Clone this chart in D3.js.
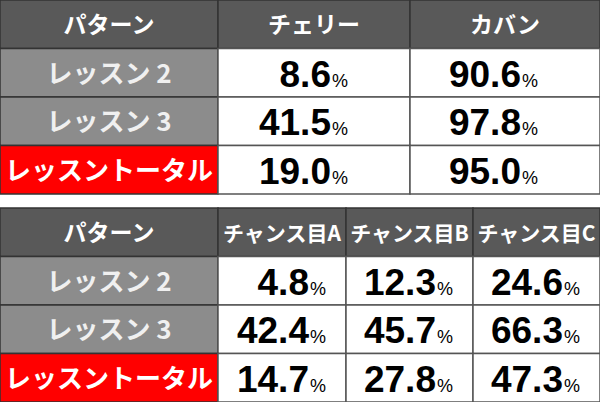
<!DOCTYPE html>
<html><head><meta charset="utf-8">
<script src="https://cdn.jsdelivr.net/npm/d3@7"></script>
<style>body{margin:0;background:#fff}</style>
</head><body>
<svg width="600" height="402"></svg>
<script>
var rowLabels = ["レッスン 2", "レッスン 3", "レッスントータル"];
var head1 = ["パターン", "チェリー", "カバン"];
var vals1 = [[8.6, 90.6], [41.5, 97.8], [19.0, 95.0]];
var head2 = ["パターン", "チャンス目A", "チャンス目B", "チャンス目C"];
var vals2 = [[4.8, 12.3, 24.6], [42.4, 45.7, 66.3], [14.7, 27.8, 47.3]];

var svg = d3.select("svg");
var font = "'Noto Sans CJK JP', 'Noto Sans', sans-serif";

function table(top, heads, vals, edges, padRight, headSize) {
    var y = d3.scaleBand().domain(d3.range(4)).range([top, top + 194]);
    var g = svg.append("g");
    // header
    heads.forEach(function (h, j) {
        g.append("rect").attr("x", edges[j]).attr("y", y(0))
            .attr("width", edges[j + 1] - edges[j]).attr("height", y.bandwidth())
            .attr("fill", "#595959").attr("stroke", "#333").attr("stroke-width", 1.5);
        g.append("text").attr("x", (edges[j] + edges[j + 1]) / 2).attr("y", y(0) + y.bandwidth() / 2 + 9)
            .attr("text-anchor", "middle").attr("fill", "#fff").attr("font-family", font)
            .attr("font-weight", "bold").attr("font-size", j == 0 ? 23 : headSize).text(h);
    });
    rowLabels.forEach(function (r, i) {
        var yy = y(i + 1);
        g.append("rect").attr("x", edges[0]).attr("y", yy)
            .attr("width", edges[1] - edges[0]).attr("height", y.bandwidth())
            .attr("fill", i == 2 ? "#ff0000" : "#8c8c8c").attr("stroke", "#333").attr("stroke-width", 1.5);
        g.append("text").attr("x", (edges[0] + edges[1]) / 2).attr("y", yy + y.bandwidth() / 2 + 10)
            .attr("text-anchor", "middle").attr("fill", i == 2 ? "#fff" : "#f0f0f0").attr("font-family", font)
            .attr("font-weight", "bold").attr("font-size", 26).text(r);
        vals[i].forEach(function (v, k) {
            var x0 = edges[k + 1], x1 = edges[k + 2];
            g.append("rect").attr("x", x0).attr("y", yy).attr("width", x1 - x0).attr("height", y.bandwidth())
                .attr("fill", "#fff").attr("stroke", "#555").attr("stroke-width", 1.5);
            var t = g.append("text").attr("x", x1 - padRight).attr("y", yy + y.bandwidth() / 2 + 14)
                .attr("text-anchor", "end").attr("fill", "#000").attr("font-family", "'Liberation Sans', Arial, sans-serif")
                .attr("font-weight", "bold");
            t.append("tspan").attr("font-size", 37).text(v.toFixed(1));
            t.append("tspan").attr("font-size", 18).attr("font-weight", "normal").attr("dx", 1).text("%");
        });
    });
}

table(0, head1, vals1, [0, 218, 410, 600], 62, 23);
table(208, head2, vals2, [0, 218, 346, 473, 600], 20, 21);
</script>
</body></html>
